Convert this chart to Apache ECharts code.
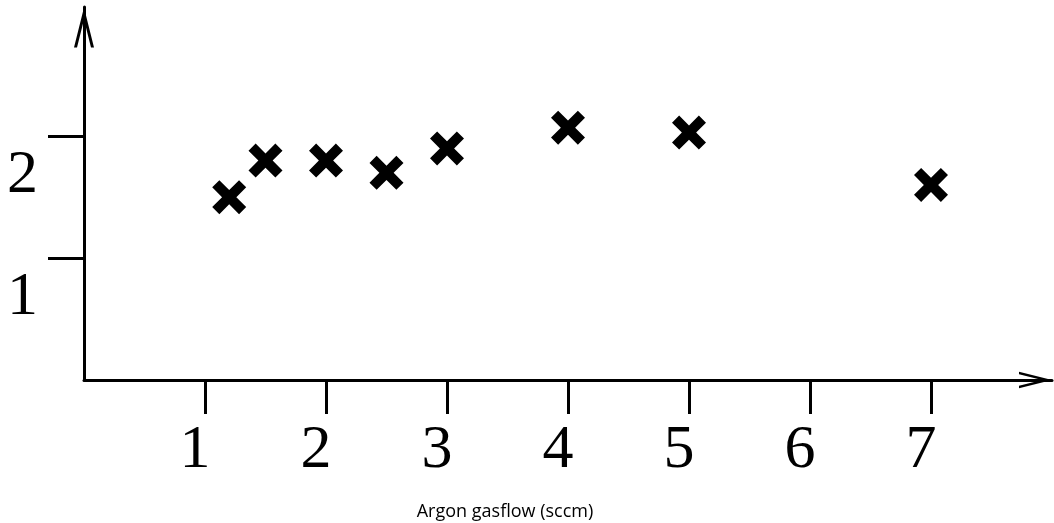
<!DOCTYPE html>
<html>
<head>
<meta charset="utf-8">
<script src="https://cdn.jsdelivr.net/npm/echarts@6/dist/echarts.min.js"></script>
<style>
html,body{margin:0;padding:0;background:#fff;}
#chart{width:1054px;height:523px;}
</style>
</head>
<body>
<div id="chart"></div>
<script>
var gasflow = [1.2, 1.5, 2.0, 2.5, 3.0, 4.0, 5.0, 7.0];
var measured = [1.50, 1.80, 1.80, 1.70, 1.90, 2.07, 2.03, 1.60];
var xTickValues = [1, 2, 3, 4, 5, 6, 7];
var yTickValues = [1, 2];
var xAxisTitle = 'Argon gasflow (sccm)';

var points = gasflow.map(function (x, i) { return [x, measured[i]]; });

var crossPath = 'path://M0 21 L21 0 L50 29 L79 0 L100 21 L71 50 L100 79 L79 100 L50 71 L21 100 L0 79 L29 50 Z';
var chevron = 'path://M10 0 L20 40 L17 40 L10 12 L3 40 L0 40 Z';

var chart = echarts.init(document.getElementById('chart'), null, {renderer: 'canvas'});
chart.setOption({
  animation: false,
  backgroundColor: '#ffffff',
  grid: {left: 84, right: 2, top: 7, bottom: 143, containLabel: false, outerBoundsMode: 'none'},
  xAxis: {
    type: 'value',
    min: 0, max: 8, interval: 1,
    splitLine: {show: false},
    axisLine: {
      show: true,
      lineStyle: {color: '#000', width: 3},
      symbol: ['none', chevron],
      symbolSize: [20, 33],
      symbolOffset: [0, -16.5]
    },
    axisTick: {show: true, inside: false, length: 34, lineStyle: {color: '#000', width: 3}, customValues: xTickValues},
    axisLabel: {
      show: true, customValues: xTickValues,
      color: '#000', fontFamily: 'Liberation Serif', fontSize: 62,
      margin: 40, padding: [0, 20, 0, 0]
    },
    name: xAxisTitle,
    nameLocation: 'middle',
    nameGap: 123,
    nameTextStyle: {color: '#000', fontFamily: 'Open Sans', fontSize: 18, padding: [0, 126, 0, 0]}
  },
  yAxis: {
    type: 'value',
    min: 0, max: 3.06, interval: 1,
    splitLine: {show: false},
    axisLine: {
      show: true,
      lineStyle: {color: '#000', width: 3},
      symbol: ['none', chevron],
      symbolSize: [20, 41],
      symbolOffset: [0, -20.5]
    },
    axisTick: {show: true, inside: false, length: 36, lineStyle: {color: '#000', width: 3}, customValues: yTickValues},
    axisLabel: {
      show: true, customValues: yTickValues,
      color: '#000', fontFamily: 'Liberation Serif', fontSize: 62,
      margin: 46, verticalAlign: 'top', lineHeight: 80
    }
  },
  series: [{
    type: 'scatter',
    data: points,
    symbol: crossPath,
    symbolSize: 34,
    itemStyle: {color: '#000', opacity: 1}
  }]
});
</script>
</body>
</html>
